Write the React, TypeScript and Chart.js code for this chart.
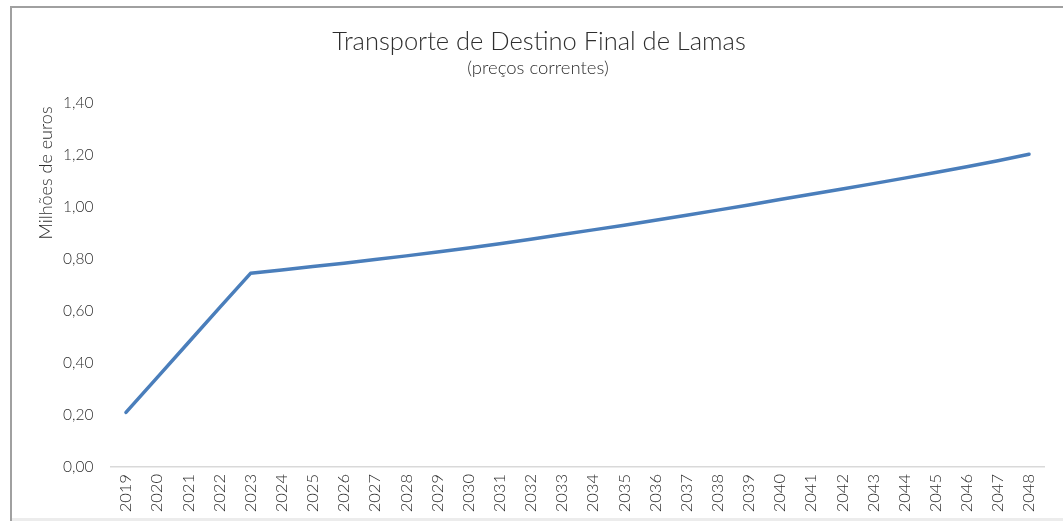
import React, { useEffect, useRef } from "react";
import { Chart, registerables } from "chart.js";

Chart.register(...registerables);

const years: string[] = [
  "2019", "2020", "2021", "2022", "2023", "2024", "2025", "2026", "2027", "2028",
  "2029", "2030", "2031", "2032", "2033", "2034", "2035", "2036", "2037", "2038",
  "2039", "2040", "2041", "2042", "2043", "2044", "2045", "2046", "2047", "2048",
];

const values: number[] = [
  0.21, 0.344, 0.478, 0.612, 0.745, 0.758, 0.771, 0.784, 0.798, 0.812,
  0.827, 0.842, 0.859, 0.876, 0.894, 0.912, 0.93, 0.949, 0.968, 0.988,
  1.008, 1.029, 1.049, 1.069, 1.09, 1.111, 1.133, 1.155, 1.178, 1.203,
];

const titleText = "Transporte de Destino Final de Lamas";
const subtitleText = "(preços correntes)";
const yAxisTitle = "Milhões de euros";

const FONT = "Lato, 'Open Sans', sans-serif";
const TEXT_COLOR = "#2e2e2e";

const decorPlugin = {
  id: "decor",
  beforeDraw(chart: any) {
    const ctx = chart.ctx;
    ctx.save();
    ctx.fillStyle = "#ffffff";
    ctx.fillRect(0, 0, chart.width, chart.height);
    ctx.strokeStyle = "#a0a0a0";
    ctx.lineWidth = 2;
    ctx.beginPath();
    ctx.moveTo(11, 530);
    ctx.lineTo(11, 7);
    ctx.lineTo(1070, 7);
    ctx.stroke();
    ctx.fillStyle = "#ececec";
    ctx.fillRect(12, 518, chart.width, 3);
    ctx.restore();
  },
  afterDraw(chart: any) {
    const ctx = chart.ctx;
    ctx.save();
    ctx.fillStyle = TEXT_COLOR;
    ctx.textAlign = "center";
    ctx.textBaseline = "middle";
    ctx.font = `300 25.5px ${FONT}`;
    ctx.fillText(titleText, 539, 42);
    ctx.font = `300 18.5px ${FONT}`;
    ctx.fillText(subtitleText, 538, 68);
    ctx.translate(46, 173);
    ctx.rotate(-Math.PI / 2);
    ctx.font = `300 18px ${FONT}`;
    ctx.fillText(yAxisTitle, 0, 0);
    ctx.restore();
  },
};

export default function App() {
  const ref = useRef<HTMLCanvasElement | null>(null);

  useEffect(() => {
    document.body.style.margin = "0";
    const canvas = ref.current;
    if (!canvas) return;
    const chart = new Chart(canvas, {
      type: "line",
      data: {
        labels: years,
        datasets: [
          {
            data: values,
            borderColor: "#4a7ebb",
            borderWidth: 3.5,
            borderCapStyle: "round",
            borderJoinStyle: "round",
            pointRadius: 0,
            pointHoverRadius: 0,
            tension: 0,
            fill: false,
          },
        ],
      },
      options: {
        responsive: false,
        animation: false,
        devicePixelRatio: 1,
        layout: { padding: { top: 103, right: 18.4, left: 0, bottom: 0 } },
        plugins: {
          legend: { display: false },
          title: { display: false },
          tooltip: { enabled: false },
        },
        scales: {
          x: {
            offset: true,
            grid: { display: false, drawTicks: false },
            border: { display: true, color: "#d9d9d9", width: 1.5 },
            ticks: {
              minRotation: 90,
              maxRotation: 90,
              autoSkip: false,
              padding: 7,
              color: TEXT_COLOR,
              font: { family: FONT, size: 16.5, weight: "300" },
            },
            afterFit: (s: any) => {
              s.height = 54;
            },
          },
          y: {
            min: 0,
            max: 1.4,
            grid: { display: false, drawTicks: false },
            border: { display: false },
            ticks: {
              stepSize: 0.2,
              padding: 17,
              color: TEXT_COLOR,
              font: { family: FONT, size: 15.5, weight: "300" },
              callback: (v: any) => Number(v).toFixed(2).replace(".", ","),
            },
            afterFit: (s: any) => {
              s.width = 110.4;
            },
          },
        },
      },
      plugins: [decorPlugin],
    });
    return () => chart.destroy();
  }, []);

  return (
    <canvas
      ref={ref}
      width={1063}
      height={521}
      style={{ position: "absolute", left: 0, top: 0, width: 1063, height: 521 }}
    />
  );
}
